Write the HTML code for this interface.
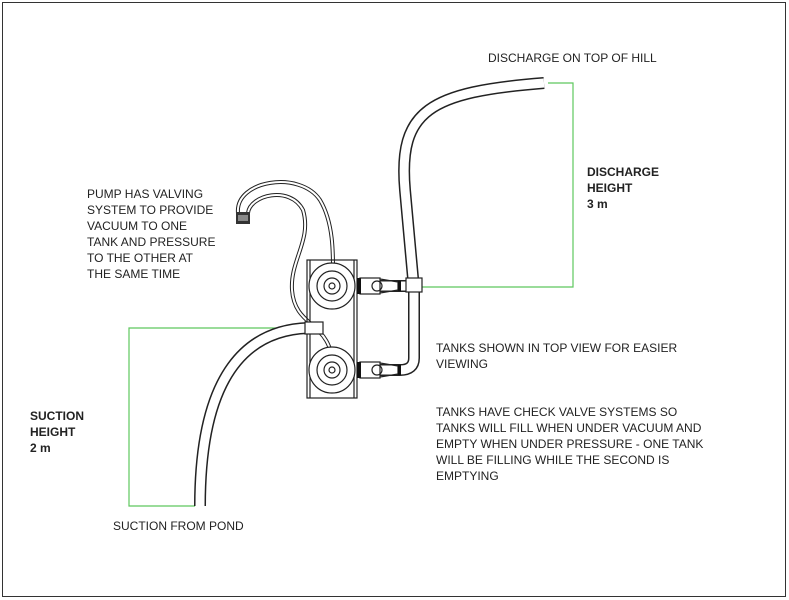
<!DOCTYPE html>
<html><head><style>
body{margin:0;background:#fff}
svg{display:block}
text{font-family:"Liberation Sans",sans-serif;font-size:12px;fill:#222}
.b{font-weight:bold}
</style></head><body>
<svg width="789" height="600" viewBox="0 0 789 600">
<rect x="2.5" y="2.5" width="783" height="594" fill="none" stroke="#333" stroke-width="1"/>
<!-- green dimension lines -->
<g fill="none" stroke="#5ec85e" stroke-width="1.2">
<polyline points="420,287 573,287 573,83 548,83"/>
<polyline points="300,328 129,328 129,506 195,506"/>
</g>
<!-- hoses -->
<g fill="none" stroke-linecap="butt">
<path d="M413,278 L405,190 C398,110 430,92 544,83" stroke="#222" stroke-width="12"/>
<path d="M413,278 L405,190 C398,110 430,92 544,83" stroke="#fff" stroke-width="9"/>
<path d="M308,328 C250,330 200,370 200,506" stroke="#222" stroke-width="12"/>
<path d="M308,328 C250,330 200,370 200,506" stroke="#fff" stroke-width="9"/>
<!-- discharge piping -->
<path d="M414,280 L414,358 Q414,370 400,370 L375,370" stroke="#222" stroke-width="12"/>
<path d="M414,280 L414,358 Q414,370 400,370 L375,370" stroke="#fff" stroke-width="9"/>
<path d="M360,286 L412,286" stroke="#222" stroke-width="12"/>
<path d="M360,286 L412,286" stroke="#fff" stroke-width="9"/>
<!-- small pump hoses -->
<path d="M238,213 C235,180 300,170 320,200 C335,225 333,260 333,286" stroke="#222" stroke-width="4"/>
<path d="M238,213 C235,180 300,170 320,200 C335,225 333,260 333,286" stroke="#fff" stroke-width="2"/>
<path d="M248,213 C250,195 290,185 303,210 C312,240 290,260 292,290 C295,330 333,320 333,370" stroke="#222" stroke-width="4"/>
<path d="M248,213 C250,195 290,185 303,210 C312,240 290,260 292,290 C295,330 333,320 333,370" stroke="#fff" stroke-width="2"/>
</g>
<!-- pump valve -->
<rect x="236" y="212" width="14" height="12" fill="#333"/>
<rect x="238" y="215" width="10" height="6" fill="#888"/>
<!-- tank frame -->
<g fill="none" stroke="#222" stroke-width="1.2">
<rect x="307" y="260" width="50" height="138"/>
<line x1="310" y1="260" x2="310" y2="398"/><line x1="354" y1="260" x2="354" y2="398"/>
<circle cx="332" cy="286" r="23" fill="#fff"/><circle cx="332" cy="286" r="15"/><circle cx="332" cy="286" r="8"/><circle cx="332" cy="286" r="3"/>
<circle cx="332" cy="370" r="23" fill="#fff"/><circle cx="332" cy="370" r="15"/><circle cx="332" cy="370" r="8"/><circle cx="332" cy="370" r="3"/>
<rect x="360" y="278" width="20" height="16" fill="#fff"/><circle cx="377" cy="286" r="5"/>
<rect x="360" y="362" width="20" height="16" fill="#fff"/><circle cx="377" cy="370" r="5"/>
<path d="M380,279 L398,282 L398,290 L380,293"/><path d="M380,363 L398,366 L398,374 L380,377"/>
<rect x="305" y="322" width="18" height="12" fill="#fff"/>
<rect x="406" y="278" width="16" height="14" fill="#fff"/>
</g>
<rect x="357" y="278" width="4" height="16" fill="#111"/><rect x="357" y="362" width="4" height="16" fill="#111"/>
<rect x="398" y="281" width="3" height="10" fill="#111"/><rect x="398" y="365" width="3" height="10" fill="#111"/>
<!-- text -->
<text x="488" y="62">DISCHARGE ON TOP OF HILL</text>
<text x="587" y="176" class="b">DISCHARGE</text>
<text x="587" y="192" class="b">HEIGHT</text>
<text x="587" y="208" class="b">3 m</text>
<text x="87" y="198">PUMP HAS VALVING</text>
<text x="87" y="214">SYSTEM TO PROVIDE</text>
<text x="87" y="230">VACUUM TO ONE</text>
<text x="87" y="246">TANK AND PRESSURE</text>
<text x="87" y="262">TO THE OTHER AT</text>
<text x="87" y="278">THE SAME TIME</text>
<text x="436" y="352">TANKS SHOWN IN TOP VIEW FOR EASIER</text>
<text x="436" y="368">VIEWING</text>
<text x="436" y="416">TANKS HAVE CHECK VALVE SYSTEMS SO</text>
<text x="436" y="432">TANKS WILL FILL WHEN UNDER VACUUM AND</text>
<text x="436" y="448">EMPTY WHEN UNDER PRESSURE - ONE TANK</text>
<text x="436" y="464">WILL BE FILLING WHILE THE SECOND IS</text>
<text x="436" y="480">EMPTYING</text>
<text x="30" y="420" class="b">SUCTION</text>
<text x="30" y="436" class="b">HEIGHT</text>
<text x="30" y="452" class="b">2 m</text>
<text x="113" y="530">SUCTION FROM POND</text>
</svg>
</body></html>
